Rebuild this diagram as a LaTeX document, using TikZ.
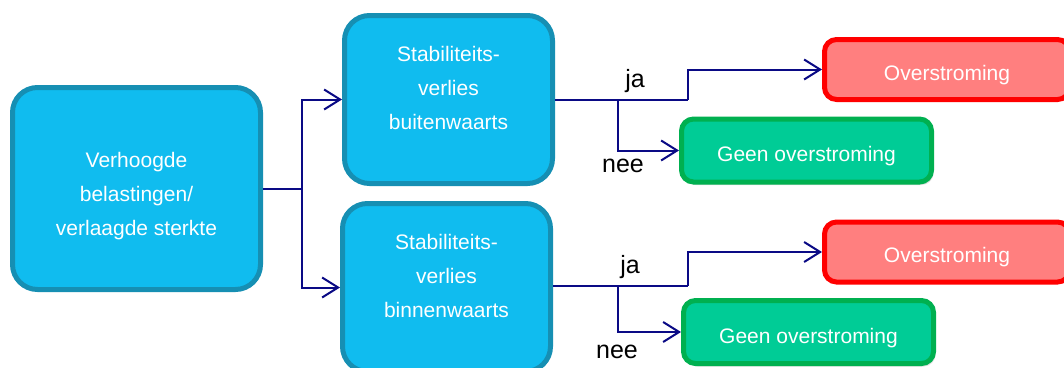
\documentclass[tikz,border=0pt]{standalone}
\usepackage{fontspec}
\setmainfont{Liberation Sans}
\usetikzlibrary{arrows.meta,shadows}
\definecolor{boxblue}{HTML}{10BCEF}
\definecolor{boxblueedge}{HTML}{168FB3}
\definecolor{boxred}{HTML}{FF7F7F}
\definecolor{boxrededge}{HTML}{FF0000}
\definecolor{boxgreen}{HTML}{00CC96}
\definecolor{boxgreenedge}{HTML}{00B050}
\definecolor{navyline}{HTML}{0A0A85}
\tikzset{
  bluebox/.style={draw=boxblueedge, fill=boxblue, line width=5pt, rounded corners=25pt, inner sep=0pt},
  redbox/.style={draw=boxrededge, fill=boxred, line width=5pt, rounded corners=12pt, inner sep=0pt,
    minimum width=245pt, minimum height=60pt, text=white, font=\fontsize{21}{25}\selectfont,
    text height=21pt, text depth=0pt},
  greenbox/.style={draw=boxgreenedge, fill=boxgreen, line width=5pt, rounded corners=12pt, inner sep=0pt,
    minimum width=250pt, minimum height=63pt, text=white, font=\fontsize{21}{25}\selectfont,
    text height=22pt, text depth=0pt,
    drop shadow={opacity=0.25, shadow xshift=2pt, shadow yshift=-3pt}},
  boxtext/.style={text=white, align=center, font=\fontsize{21}{34}\selectfont, inner sep=0pt},
  conn/.style={draw=navyline, line width=2pt},
  arr/.style={conn, -{Straight Barb[length=16pt, width=20pt]}},
  lbl/.style={font=\fontsize{25}{30}\selectfont, anchor=base, inner sep=0pt}
}
\begin{document}
\begin{tikzpicture}[x=1pt,y=-1pt]
\useasboundingbox (0,0) rectangle (1064,367);
\clip (0,0) rectangle (1064,367);

% boxes
\node[bluebox, minimum width=248pt, minimum height=202pt] (A) at (136.5,188.5) {};
\node[boxtext] (At) at (136.5,196) {Verhoogde\\belastingen/\\verlaagde sterkte};

\node[bluebox, minimum width=208pt, minimum height=168pt] (B1) at (448.5,99.5) {};
\node[boxtext] (B1t) at (448.5,88) {Stabiliteits-\\verlies\\buitenwaarts};

\node[bluebox, minimum width=208pt, minimum height=168pt] (B2) at (446.5,287.5) {};
\node[boxtext] (B2t) at (446.5,275.5) {Stabiliteits-\\verlies\\binnenwaarts};

\node[redbox] (R1) at (947,69.5) {Overstroming};
\node[redbox] (R2) at (947,252) {Overstroming};

\node[greenbox] (G1) at (806.5,150.5) {Geen overstroming};
\node[greenbox] (G2) at (808.5,332) {Geen overstroming};

% connectors from A
\coordinate (j0) at (302,188.5);
\draw[conn] (A.east) -- (j0);
\draw[arr] (j0) |- (B1.west);
\draw[arr] (j0) |- (B2.west);

% connectors from B1
\coordinate (k1) at (688,99.5);
\coordinate (m1) at (618,99.5);
\draw[conn] (B1.east) -- (k1);
\draw[arr] (k1) |- (R1.west);
\draw[arr] (m1) |- (G1.west);
\node[lbl] (ja1) at (635,87) {ja};
\node[lbl] (nee1) at (623,172) {nee};

% connectors from B2
\coordinate (k2) at (688,286);
\coordinate (m2) at (618,286);
\draw[conn] (B2.east |- k2) -- (k2);
\draw[arr] (k2) |- (R2.west);
\draw[arr] (m2) |- (G2.west);
\node[lbl] (ja2) at (630,273) {ja};
\node[lbl] (nee2) at (617,358) {nee};
\end{tikzpicture}
\end{document}
